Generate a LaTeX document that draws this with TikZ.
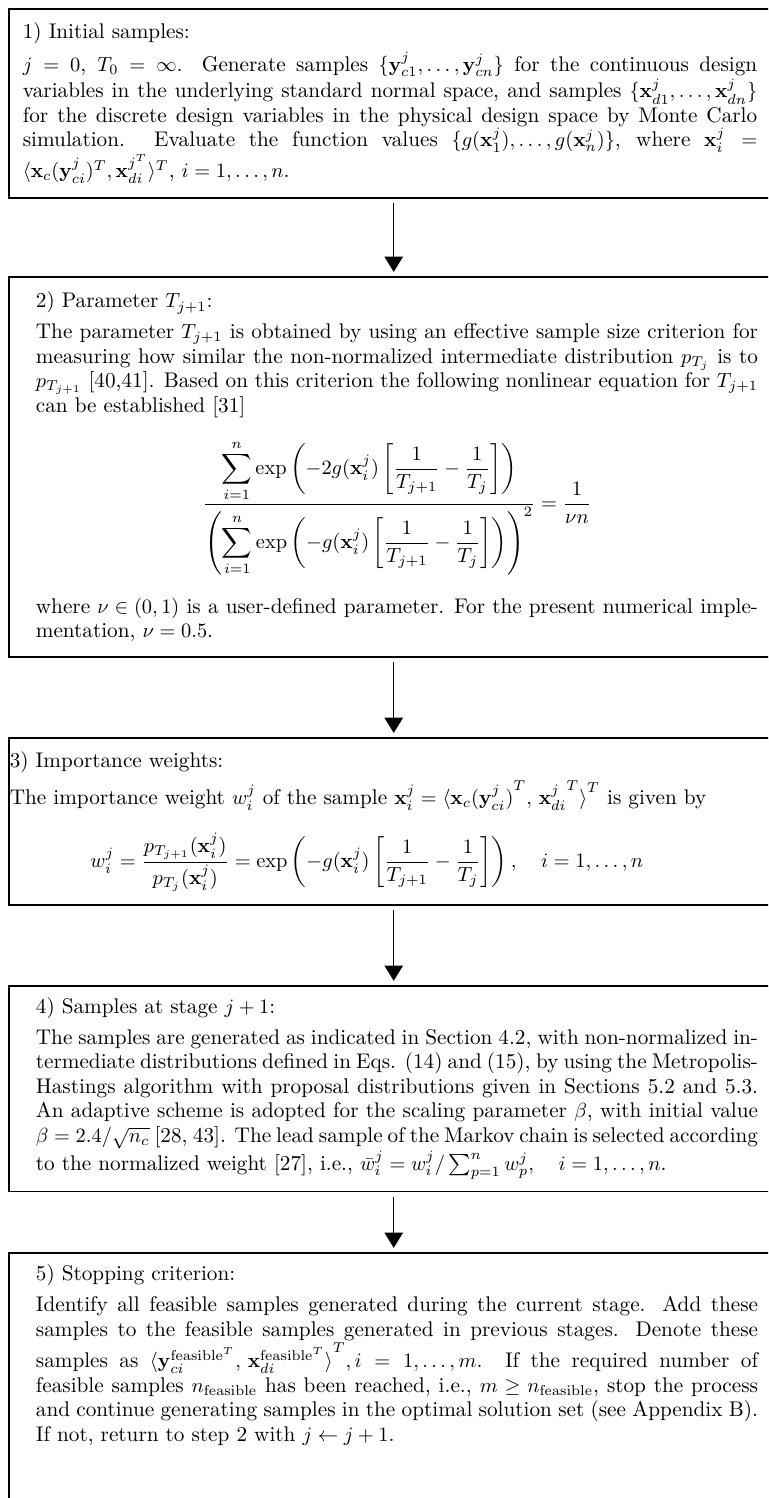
\documentclass[tikz,border=0pt]{standalone}
\usepackage{amssymb,amsmath}
\usetikzlibrary{arrows.meta}
\hyphenation{variables feasible samples}

\begin{document}
\begin{tikzpicture}[x=1pt,y=-1pt]
  \tikzstyle{stage}=[draw,line width=.8pt,anchor=north west,align=justify,inner ysep=6pt,font=\fontsize{10.4}{12}\selectfont]
  \tikzstyle{flow}=[line width=.75pt,-{Triangle[width=9pt,length=7.5pt]},shorten <=2pt,shorten >=2pt]
  \useasboundingbox (0,0) rectangle (376.5,734.3);
  \clip (0,0) rectangle (376.5,734.3);
  \node[stage,text width=360pt,inner xsep=6.9pt,minimum height=92.6pt] (s1) at (3.9,3.9) {1) Initial samples:\par\vspace{3pt}
    $j=0$, $T_0=\infty$. Generate samples $\{\mathbf{y}^j_{c1},\ldots,\mathbf{y}^j_{cn}\}$ for the continuous design variables in the underlying standard normal space, and samples $\{\mathbf{x}^j_{d1},\ldots,\mathbf{x}^j_{dn}\}$ for the discrete design variables in the physical design space by Monte Carlo simulation. Evaluate the function values $\{g(\mathbf{x}^j_1),\ldots,g(\mathbf{x}^j_n)\}$, where $\mathbf{x}^j_i=\langle\mathbf{x}_c(\mathbf{y}^j_{ci})^T,\mathbf{x}^{j^T}_{di}\rangle^T$, $i=1,\ldots,n$.};
  \node[stage,text width=354pt,inner xsep=13.3pt,minimum height=186.3pt] (s2) at (3.9,135.3) {2) Parameter $T_{j+1}$:\par\vspace{3pt}
    The parameter $T_{j+1}$ is obtained by using an effective sample size criterion for measuring how similar the non-normalized intermediate distribution $p_{T_j}$ is to $p_{T_{j+1}}$ [40,41]. Based on this criterion the following nonlinear equation for $T_{j+1}$ can be established [31]
    \[\frac{\displaystyle\sum_{i=1}^n\exp\left(-2g(\mathbf{x}^j_i)\left[\frac{1}{T_{j+1}}-\frac{1}{T_j}\right]\right)}{\left(\displaystyle\sum_{i=1}^n\exp\left(-g(\mathbf{x}^j_i)\left[\frac{1}{T_{j+1}}-\frac{1}{T_j}\right]\right)\right)^2}=\frac{1}{\nu n}\]
    where $\nu\in(0,1)$ is a user-defined parameter. For the present numerical implementation, $\nu=0.5$.};
  \node[stage,text width=374pt,inner xsep=.5pt,minimum height=81.9pt] (s3) at (3.9,361.3) {3) Importance weights:\par\vspace{3pt}
    The importance weight $w^j_i$ of the sample $\mathbf{x}^j_i=\langle{\mathbf{x}_c(\mathbf{y}^j_{ci})}^T,\,{\mathbf{x}^j_{di}}^{T}\rangle^{\raisebox{2pt}{$\scriptstyle T$}}$ is given by
    \[w^j_i=\frac{p_{T_{j+1}}(\mathbf{x}^j_i)}{p_{T_j}(\mathbf{x}^j_i)}=\exp\left(-g(\mathbf{x}^j_i)\left[\frac{1}{T_{j+1}}-\frac{1}{T_j}\right]\right),\quad i=1,\ldots,n\hspace{24pt}\]};
  \node[stage,text width=354pt,inner xsep=13.3pt,minimum height=90.7pt] (s4) at (3.9,482.8) {4) Samples at stage $j+1$:\par\vspace{3pt}
    The samples are generated as indicated in Section 4.2, with non-normalized intermediate distributions defined in Eqs. (14) and (15), by using the Metropolis-Hastings algorithm with proposal distributions given in Sections 5.2 and 5.3. An adaptive scheme is adopted for the scaling parameter $\beta$, with initial value $\beta=2.4/\sqrt{n_c}$ [28, 43]. The lead sample of the Markov chain is selected according to the normalized weight [27], i.e., $\bar{w}^j_i=w^j_i/\sum_{p=1}^n w^j_p,\quad i=1,\ldots,n$.};
  \node[stage,text width=354pt,inner xsep=13.3pt] (s5) at (3.9,613.7) {5) Stopping criterion:\par\vspace{3pt}
    Identify all feasible samples generated during the current stage. Add these samples to the feasible samples generated in previous stages. Denote these samples as $\langle\mathbf{y}^{\mathrm{feasible}^T}_{ci},\,\mathbf{x}^{\mathrm{feasible}^T}_{di}\rangle^{\raisebox{4pt}{$\scriptstyle T$}},i=1,\ldots,m$. If the required number of feasible samples $n_{\mathrm{feasible}}$ has been reached, i.e., $m\geq n_{\mathrm{feasible}}$, stop the process and continue generating samples in the optimal solution set (see Appendix B). If not, return to step 2 with $j\leftarrow j+1$.\par\vspace{40pt}\null};
  \coordinate (ax) at (193,0);
  \foreach \a/\b in {s1/s2,s2/s3,s3/s4,s4/s5}
    \draw[flow] (\a.south -| ax) -- (\b.north -| ax);
\end{tikzpicture}
\end{document}
